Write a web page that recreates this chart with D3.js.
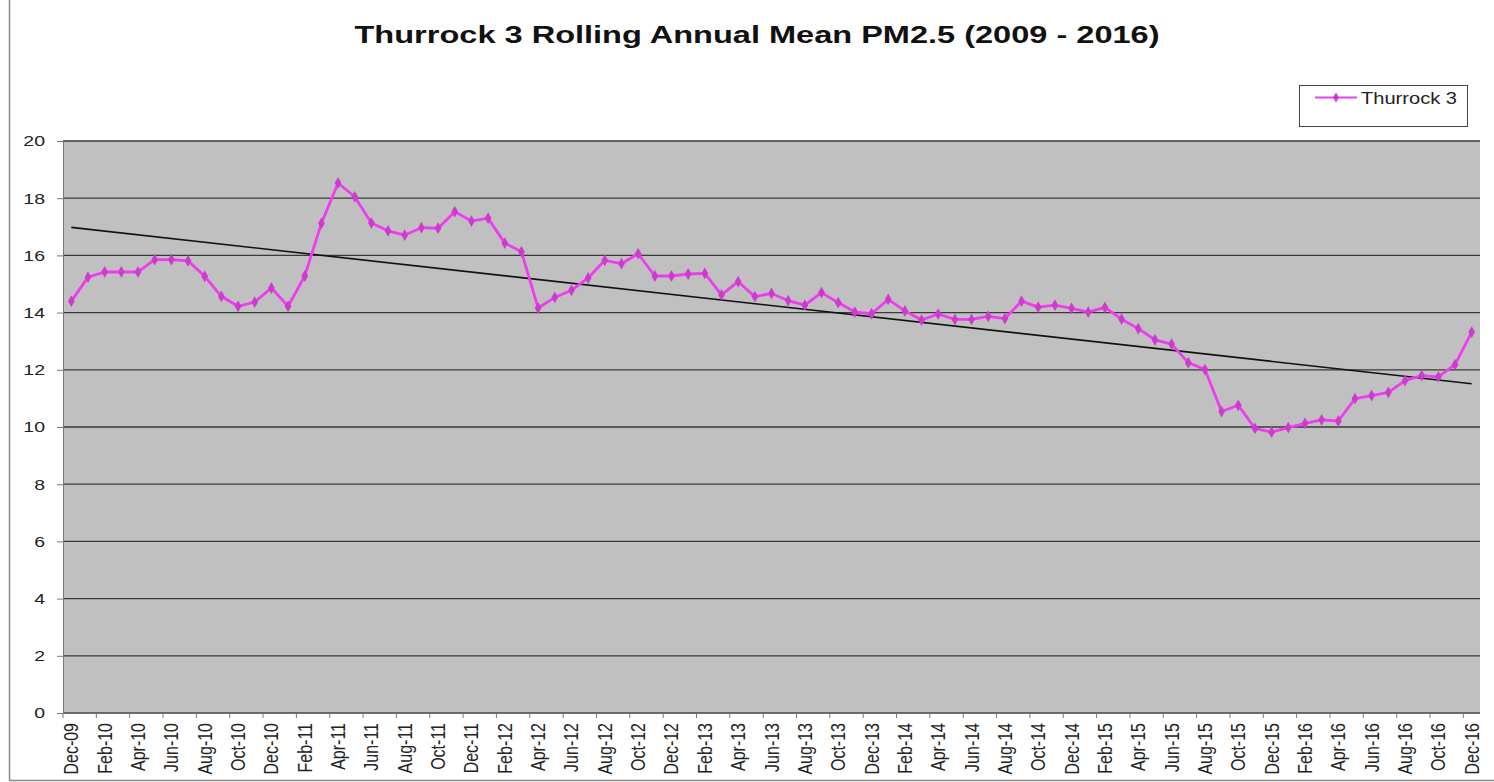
<!DOCTYPE html>
<html>
<head>
<meta charset="utf-8">
<script src="https://cdn.jsdelivr.net/npm/d3@7"></script>
<style>
  body { margin: 0; background: #fff; }
  svg { display: block; font-family: "Liberation Sans", Arial, sans-serif; }
</style>
</head>
<body>
<div id="chart"></div>
<script>
var months = [
  "Dec-09",
  "Jan-10","Feb-10","Mar-10","Apr-10","May-10","Jun-10","Jul-10","Aug-10","Sep-10","Oct-10","Nov-10","Dec-10",
  "Jan-11","Feb-11","Mar-11","Apr-11","May-11","Jun-11","Jul-11","Aug-11","Sep-11","Oct-11","Nov-11","Dec-11",
  "Jan-12","Feb-12","Mar-12","Apr-12","May-12","Jun-12","Jul-12","Aug-12","Sep-12","Oct-12","Nov-12","Dec-12",
  "Jan-13","Feb-13","Mar-13","Apr-13","May-13","Jun-13","Jul-13","Aug-13","Sep-13","Oct-13","Nov-13","Dec-13",
  "Jan-14","Feb-14","Mar-14","Apr-14","May-14","Jun-14","Jul-14","Aug-14","Sep-14","Oct-14","Nov-14","Dec-14",
  "Jan-15","Feb-15","Mar-15","Apr-15","May-15","Jun-15","Jul-15","Aug-15","Sep-15","Oct-15","Nov-15","Dec-15",
  "Jan-16","Feb-16","Mar-16","Apr-16","May-16","Jun-16","Jul-16","Aug-16","Sep-16","Oct-16","Nov-16","Dec-16"
];

var thurrock3 = [
  14.40,
  15.24, 15.42, 15.42, 15.42, 15.85, 15.85, 15.81, 15.27, 14.57, 14.22, 14.37, 14.86,
  14.22, 15.28, 17.12, 18.53, 18.05, 17.13, 16.86, 16.71, 16.97, 16.95, 17.53, 17.20,
  17.30, 16.43, 16.13, 14.16, 14.53, 14.78, 15.21, 15.83, 15.71, 16.06, 15.28, 15.28,
  15.35, 15.37, 14.62, 15.08, 14.56, 14.67, 14.42, 14.26, 14.70, 14.35, 14.02, 13.96,
  14.46, 14.06, 13.74, 13.95, 13.76, 13.76, 13.87, 13.79, 14.40, 14.19, 14.26, 14.15,
  14.02, 14.18, 13.77, 13.44, 13.05, 12.90, 12.25, 12.01, 10.54, 10.76, 9.95, 9.82,
  9.98, 10.13, 10.25, 10.21, 10.99, 11.10, 11.21, 11.62, 11.80, 11.75, 12.18, 13.32
];

var yTicks = [0, 2, 4, 6, 8, 10, 12, 14, 16, 18, 20];
var seriesName = "Thurrock 3";
var title = "Thurrock 3 Rolling Annual Mean PM2.5 (2009 - 2016)";

var width = 1494, height = 782;
var margin = {top: 141, right: 14, bottom: 69, left: 63};
var stretch = 1.3; // the picture's text looks widened sideways

var svg = d3.select("#chart").append("svg")
    .attr("width", width)
    .attr("height", height);

// outer frame bits
svg.append("line").attr("x1", 9.5).attr("x2", 9.5).attr("y1", 0).attr("y2", 780)
    .attr("stroke", "#8a8a8a").attr("stroke-width", 1.5);
svg.append("line").attr("x1", 9).attr("x2", 1494).attr("y1", 780.5).attr("y2", 780.5)
    .attr("stroke", "#8a8a8a").attr("stroke-width", 1.5);

var x = d3.scaleBand().domain(months).range([margin.left, width - margin.right]);
var y = d3.scaleLinear().domain([0, 20]).range([height - margin.bottom, margin.top]);

// plot area
svg.append("rect")
    .attr("x", margin.left).attr("y", margin.top)
    .attr("width", width - margin.right - margin.left)
    .attr("height", height - margin.bottom - margin.top)
    .attr("fill", "#c0c0c0");

// gridlines
svg.append("g").selectAll("line").data(yTicks).enter().append("line")
    .attr("x1", margin.left).attr("x2", width - margin.right)
    .attr("y1", function(d) { return y(d); })
    .attr("y2", function(d) { return y(d); })
    .attr("stroke", "#3a3a3a").attr("stroke-width", 1.3);

// y axis
var yAxis = svg.append("g")
    .attr("transform", "translate(" + margin.left + ",0)")
    .call(d3.axisLeft(y).tickValues(yTicks).tickSize(6).tickPadding(0));
yAxis.select(".domain").attr("stroke", "#777");
yAxis.selectAll(".tick line").attr("stroke", "#777");
yAxis.selectAll(".tick text")
    .attr("x", null)
    .attr("transform", "translate(-18,0) scale(" + stretch + ",1)")
    .attr("font-size", 15).attr("fill", "#222")
    .attr("font-family", "Liberation Sans, Arial, sans-serif");

// x axis: ticks every 2 months at band boundaries, labels at band centres
var xg = svg.append("g");
var tickMonths = months.filter(function(d, i) { return i % 2 === 0; });
xg.append("line")
    .attr("x1", margin.left).attr("x2", width - margin.right)
    .attr("y1", y(0)).attr("y2", y(0))
    .attr("stroke", "#777");
xg.selectAll("line.tk").data(tickMonths).enter().append("line")
    .attr("class", "tk")
    .attr("x1", function(d) { return x(d); })
    .attr("x2", function(d) { return x(d); })
    .attr("y1", y(0)).attr("y2", y(0) + 5)
    .attr("stroke", "#777");
xg.selectAll("text").data(tickMonths).enter().append("text")
    .attr("transform", function(d) {
      return "translate(" + (x(d) + x.bandwidth() / 2 + 7) + "," + (y(0) + 10) + ") scale(" + stretch + ",1) rotate(-90)";
    })
    .attr("text-anchor", "end")
    .attr("font-size", 16)
    .attr("fill", "#222")
    .text(function(d) { return d; });

// linear trend (least squares)
var n = thurrock3.length;
var mx = d3.mean(thurrock3, function(d, i) { return i; });
var my = d3.mean(thurrock3);
var sxy = d3.sum(thurrock3, function(d, i) { return (i - mx) * (d - my); });
var sxx = d3.sum(thurrock3, function(d, i) { return (i - mx) * (i - mx); });
var slope = sxy / sxx, intercept = my - slope * mx;
var cx = function(i) { return x(months[i]) + x.bandwidth() / 2; };

svg.append("line")
    .attr("x1", cx(0)).attr("y1", y(intercept))
    .attr("x2", cx(n - 1)).attr("y2", y(intercept + slope * (n - 1)))
    .attr("stroke", "#111").attr("stroke-width", 1.6);

// series
var line = d3.line()
    .x(function(d, i) { return cx(i); })
    .y(function(d) { return y(d); });

svg.append("path")
    .datum(thurrock3)
    .attr("d", line)
    .attr("fill", "none")
    .attr("stroke", "#f03cf0")
    .attr("stroke-width", 2.8)
    .attr("stroke-linejoin", "round");

svg.append("g").selectAll("path").data(thurrock3).enter().append("path")
    .attr("d", d3.symbol().type(d3.symbolDiamond).size(40))
    .attr("transform", function(d, i) { return "translate(" + cx(i) + "," + y(d) + ")"; })
    .attr("fill", "#cc3ccc");

// title
svg.append("text")
    .attr("x", 757).attr("y", 43)
    .attr("text-anchor", "middle")
    .attr("font-size", 24)
    .attr("font-weight", "bold")
    .attr("fill", "#111")
    .attr("textLength", 805)
    .attr("lengthAdjust", "spacingAndGlyphs")
    .text(title);

// legend
var lg = svg.append("g");
lg.append("rect")
    .attr("x", 1299.5).attr("y", 85.5).attr("width", 168).attr("height", 41)
    .attr("fill", "#fff").attr("stroke", "#444").attr("stroke-width", 1);
lg.append("line")
    .attr("x1", 1315).attr("x2", 1357).attr("y1", 97.5).attr("y2", 97.5)
    .attr("stroke", "#f03cf0").attr("stroke-width", 2);
lg.append("path")
    .attr("d", d3.symbol().type(d3.symbolDiamond).size(30))
    .attr("transform", "translate(1336,97.5)")
    .attr("fill", "#cc3ccc");
lg.append("text")
    .attr("x", 1361).attr("y", 103.5)
    .attr("font-size", 17)
    .attr("fill", "#222")
    .attr("textLength", 96)
    .attr("lengthAdjust", "spacingAndGlyphs")
    .text(seriesName);
</script>
</body>
</html>
